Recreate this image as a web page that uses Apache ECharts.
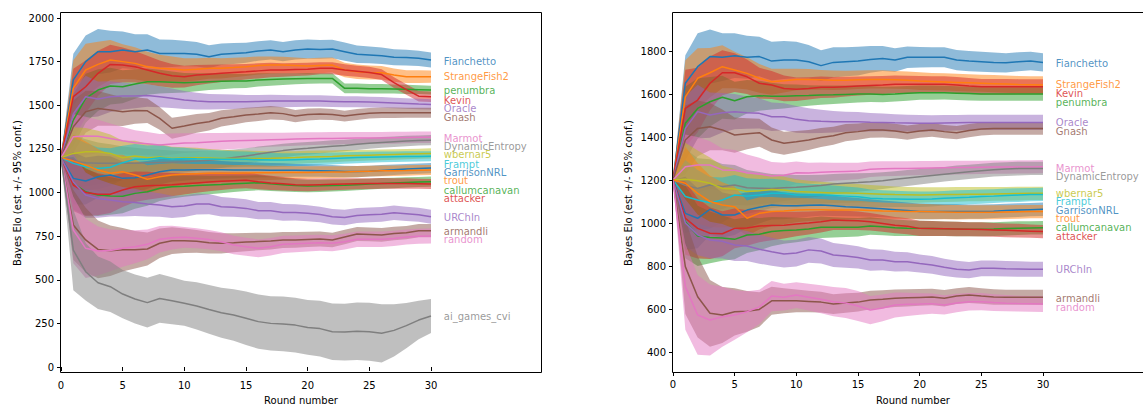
<!DOCTYPE html>
<html><head><meta charset="utf-8">
<script src="https://cdn.jsdelivr.net/npm/echarts@6/dist/echarts.min.js"></script>
<style>html,body{margin:0;padding:0;background:#fff}#c{width:1143px;height:404px}</style>
</head><body><div id="c"></div>
<script>
// ---------- data ----------
const rounds = [0,1,2,3,4,5,6,7,8,9,10,11,12,13,14,15,16,17,18,19,20,21,22,23,24,25,26,27,28,29,30];
const xTicks = [0,5,10,15,20,25,30];
const yTicksL = [0,250,500,750,1000,1250,1500,1750,2000];
const yTicksR = [400,600,800,1000,1200,1400,1600,1800];
const tab10 = ['#1f77b4','#ff7f0e','#2ca02c','#d62728','#9467bd','#8c564b','#e377c2','#7f7f7f','#bcbd22','#17becf'];

// plotting order (also colour order)
const namesL = ['Fianchetto','StrangeFish2','penumbra','Kevin','Oracle','Gnash','Marmot','DynamicEntropy','wbernar5','Frampt','GarrisonNRL','trout','callumcanavan','attacker','URChIn','armandli','random','ai_games_cvi'];
// label order (right panel)
const namesR = ['Fianchetto','StrangeFish2','Kevin','penumbra','Oracle','Gnash','Marmot','DynamicEntropy','wbernar5','Frampt','GarrisonNRL','trout','callumcanavan','attacker','URChIn','armandli','random'];
const labelYL = [1753,1662,1582,1530,1484,1427,1312,1266,1215,1163,1117,1066,1014,968,854,779,728,287];
const labelYR = [1743,1642,1603,1561,1467,1425,1254,1215,1138,1099,1057,1019,978,936,785,650,606];

// ---- left panel means ----
const L_Fianchetto = [1200,1645,1750,1807,1807,1817,1807,1817,1797,1797,1797,1792,1778,1792,1797,1801,1811,1817,1807,1817,1822,1820,1822,1807,1792,1788,1784,1775,1773,1769,1759];
const L_StrangeFish2 = [1200,1598,1702,1734,1759,1750,1740,1721,1712,1708,1702,1706,1712,1712,1716,1721,1728,1730,1730,1728,1725,1728,1730,1702,1692,1688,1686,1673,1664,1664,1664];
const L_penumbra = [1200,1415,1540,1587,1610,1606,1622,1635,1635,1632,1629,1632,1635,1637,1639,1639,1645,1648,1650,1652,1654,1654,1654,1597,1597,1595,1595,1593,1591,1589,1587];
const L_Kevin = [1200,1549,1606,1683,1734,1731,1721,1702,1683,1669,1664,1673,1678,1683,1688,1692,1697,1702,1702,1705,1707,1712,1712,1702,1695,1688,1676,1630,1590,1552,1549];
const L_Oracle = [1200,1450,1549,1536,1549,1553,1553,1556,1549,1540,1530,1524,1520,1520,1520,1520,1522,1524,1524,1524,1524,1524,1522,1520,1520,1518,1516,1513,1510,1507,1505];
const L_Gnash = [1200,1377,1463,1482,1473,1463,1470,1468,1425,1368,1381,1396,1406,1425,1434,1444,1450,1457,1452,1438,1447,1450,1447,1438,1447,1454,1457,1457,1457,1457,1457];
const L_Marmot = [1200,1320,1324,1322,1310,1297,1285,1280,1272,1278,1283,1285,1290,1293,1296,1298,1300,1302,1304,1306,1308,1309,1310,1311,1312,1313,1313,1314,1315,1316,1316];
const L_DynamicEntropy = [1200,1180,1170,1167,1168,1167,1168,1170,1172,1174,1176,1180,1185,1190,1200,1209,1220,1230,1240,1248,1253,1259,1265,1270,1276,1282,1287,1291,1295,1298,1300];
const L_wbernar5 = [1200,1224,1234,1234,1224,1199,1209,1199,1203,1195,1199,1199,1197,1195,1195,1195,1195,1196,1198,1200,1203,1205,1207,1210,1212,1214,1216,1218,1220,1222,1224];
const L_Frampt = [1200,1167,1148,1138,1145,1171,1190,1190,1199,1192,1195,1193,1192,1190,1190,1190,1188,1186,1186,1188,1190,1192,1195,1198,1200,1202,1204,1205,1206,1207,1208];
const L_GarrisonNRL = [1200,1081,1066,1090,1100,1081,1085,1100,1119,1129,1129,1131,1131,1130,1129,1129,1129,1128,1128,1127,1126,1125,1123,1121,1120,1122,1126,1130,1134,1137,1140];
const L_trout = [1200,1180,1157,1129,1110,1119,1100,1076,1090,1100,1104,1107,1110,1110,1111,1112,1113,1113,1114,1114,1115,1116,1117,1118,1120,1122,1124,1125,1126,1128,1129];
const L_callumcanavan = [1200,1053,1004,985,980,978,995,1004,1024,1033,1036,1040,1043,1046,1050,1053,1056,1050,1045,1040,1037,1038,1040,1042,1045,1048,1052,1055,1058,1060,1062];
const L_attacker = [1200,1043,1000,990,990,1014,1033,1039,1041,1045,1050,1055,1060,1065,1068,1070,1062,1055,1050,1045,1043,1045,1047,1049,1050,1051,1052,1052,1051,1050,1049];
const L_URChIn = [1200,1060,985,966,957,947,943,934,928,918,922,934,934,918,915,909,896,896,886,886,881,874,861,857,868,872,875,884,878,872,861];
const L_armandli = [1200,814,728,674,666,672,672,676,709,724,724,720,712,709,712,716,719,722,728,728,731,733,728,745,762,760,757,765,770,781,781];
const L_random = [1200,785,680,665,668,680,689,703,732,741,743,738,730,718,699,689,680,689,703,706,709,712,709,718,732,732,732,737,745,749,751];
const L_ai_games_cvi = [1200,670,546,483,460,418,390,369,393,380,365,350,330,311,298,279,260,250,247,240,227,220,202,200,205,202,193,210,237,269,292];

// ---- left panel half-widths of the 95% band ----
const ciL_Fianchetto = [0,150,150,130,120,105,100,90,80,78,73,70,66,62,60,57,56,55,55,55,55,54,53,52,50,48,47,46,45,44,43];
const ciL_StrangeFish2 = [0,160,150,130,115,100,92,85,78,72,68,64,60,58,56,54,52,50,48,46,45,44,43,42,41,40,39,38,37,36,35];
const ciL_penumbra = [0,150,140,120,105,95,85,75,68,62,56,52,48,45,42,40,38,36,34,32,31,30,29,28,28,27,27,26,26,25,25];
const ciL_Kevin = [0,160,150,130,112,100,90,82,74,68,62,58,54,50,47,45,43,41,39,37,36,35,34,33,32,32,31,31,30,30,30];
const ciL_Oracle = [0,140,120,100,88,78,70,64,60,56,52,48,45,43,41,39,37,36,35,34,33,33,32,32,31,31,31,30,30,30,30];
const ciL_Gnash = [0,150,120,100,90,82,76,70,65,60,57,54,50,47,44,42,40,38,36,35,34,33,32,31,31,30,30,30,29,29,29];
const ciL_Marmot = [0,130,110,95,85,78,72,67,63,60,57,54,51,48,46,44,42,40,39,38,37,36,36,35,35,34,34,34,33,33,33];
const ciL_mid = [0,150,135,120,108,97,88,80,73,67,61,57,53,50,47,45,43,41,39,37,36,35,34,33,32,31,31,30,30,29,29];
const ciL_URChIn = [0,160,130,110,95,85,78,72,67,64,62,60,58,56,54,52,50,49,48,47,46,45,44,44,43,42,42,41,41,40,40];
const ciL_armandli = [0,200,185,165,145,125,108,95,85,77,70,65,61,58,55,52,50,48,46,45,44,43,42,41,40,40,39,39,38,38,38];
const ciL_random = [0,190,170,140,120,105,95,85,76,68,60,57,55,54,53,52,51,50,49,48,47,46,46,45,45,44,44,44,43,43,43];
const ciL_ai_games_cvi = [0,230,165,150,145,138,140,143,140,135,129,135,140,143,148,153,155,156,157,157,157,160,162,163,165,166,167,150,130,110,97];

// ---- right panel means ----
const R_Fianchetto = [1200,1650,1727,1774,1771,1778,1771,1774,1753,1758,1758,1750,1732,1747,1750,1753,1761,1765,1758,1771,1771,1771,1771,1758,1753,1750,1747,1745,1750,1753,1747];
const R_StrangeFish2 = [1200,1587,1673,1699,1727,1712,1696,1673,1657,1662,1668,1668,1666,1664,1664,1666,1668,1668,1666,1664,1660,1658,1656,1654,1652,1650,1648,1646,1644,1643,1642];
const R_Kevin = [1200,1533,1572,1650,1699,1699,1680,1650,1642,1626,1622,1626,1631,1631,1634,1637,1640,1642,1645,1645,1645,1645,1645,1642,1637,1634,1634,1634,1634,1634,1634];
const R_penumbra = [1200,1464,1533,1564,1585,1569,1587,1592,1590,1589,1592,1593,1595,1596,1598,1600,1600,1598,1600,1603,1606,1606,1606,1604,1602,1600,1600,1600,1600,1600,1600];
const R_Oracle = [1200,1440,1518,1502,1513,1518,1513,1510,1494,1494,1482,1476,1473,1471,1471,1471,1469,1468,1466,1465,1464,1464,1465,1466,1467,1468,1468,1468,1468,1468,1468];
const R_Gnash = [1200,1386,1440,1448,1433,1409,1415,1420,1386,1371,1378,1386,1398,1406,1420,1425,1433,1433,1428,1420,1428,1433,1425,1420,1430,1437,1440,1440,1440,1440,1440];
const R_Marmot = [1200,1262,1270,1270,1247,1245,1234,1228,1219,1222,1234,1232,1236,1238,1240,1242,1250,1252,1253,1254,1255,1256,1257,1258,1258,1259,1260,1260,1261,1261,1262];
const R_DynamicEntropy = [1200,1175,1161,1177,1170,1177,1164,1162,1160,1164,1166,1170,1174,1181,1185,1188,1192,1197,1203,1209,1215,1221,1227,1233,1238,1243,1248,1251,1253,1254,1254];
const R_wbernar5 = [1200,1203,1197,1185,1161,1158,1146,1150,1156,1153,1146,1144,1142,1140,1139,1138,1136,1134,1132,1131,1130,1131,1132,1133,1134,1134,1135,1136,1137,1138,1138];
const R_Frampt = [1200,1123,1107,1094,1107,1130,1125,1130,1138,1138,1130,1130,1130,1128,1125,1122,1115,1113,1112,1111,1110,1112,1115,1118,1120,1123,1125,1128,1130,1132,1133];
const R_GarrisonNRL = [1200,1045,1022,1064,1037,1037,1060,1073,1084,1080,1080,1082,1084,1080,1076,1073,1070,1066,1062,1058,1053,1053,1053,1053,1053,1053,1055,1058,1060,1062,1064];
const R_trout = [1200,1185,1138,1100,1084,1076,1022,1045,1053,1056,1060,1062,1062,1060,1060,1060,1058,1056,1055,1054,1053,1052,1051,1050,1050,1050,1050,1051,1052,1053,1053];
const R_callumcanavan = [1200,1006,940,933,930,924,944,948,960,965,967,972,980,980,980,980,986,982,978,976,975,974,973,972,971,971,972,974,976,977,978];
const R_attacker = [1200,1022,975,952,950,975,977,986,988,990,995,1000,1006,1014,1012,1010,1006,998,990,985,975,974,973,972,971,970,968,966,964,962,960];
const R_URChIn = [1200,1000,945,921,915,898,893,878,866,856,860,875,870,851,846,840,828,828,820,820,812,805,794,785,781,789,789,787,786,785,785];
const R_armandli = [1200,797,657,580,572,587,589,598,638,638,638,635,632,623,628,632,642,645,650,652,654,656,650,660,665,660,656,655,655,655,655];
const R_random = [1200,704,572,549,564,572,587,610,660,655,665,655,645,634,628,614,595,605,619,622,623,625,619,628,634,634,630,627,625,624,623];

// ---- right panel half-widths ----
const ciR_Fianchetto = [0,130,155,126,111,104,100,92,90,88,85,78,72,70,68,67,62,58,55,50,48,47,47,47,47,47,46,45,44,43,42];
const ciR_StrangeFish2 = [0,170,140,115,100,85,75,67,60,55,50,48,46,45,44,43,42,42,41,41,41,40,40,40,40,40,40,40,40,40,40];
const ciR_Kevin = [0,180,150,125,105,90,80,72,65,60,55,52,50,48,46,44,43,42,41,40,39,38,38,37,37,36,36,36,35,35,35];
const ciR_penumbra = [0,170,140,115,100,88,78,70,62,56,52,48,45,43,41,39,37,36,35,34,33,33,32,32,32,31,31,31,31,31,31];
const ciR_Oracle = [0,150,125,105,92,82,75,70,66,63,62,58,54,50,47,45,43,41,40,39,38,37,37,36,36,36,35,35,35,35,35];
const ciR_Gnash = [0,160,130,110,95,82,72,65,58,54,50,47,44,42,40,38,36,35,34,33,32,32,31,31,31,30,30,30,30,30,30];
const ciR_Marmot = [0,150,130,110,100,95,85,75,65,58,52,48,45,42,40,38,36,35,34,33,33,32,32,32,31,31,31,31,31,31,31];
const ciR_mid = [0,170,140,120,105,93,83,75,68,62,57,53,50,47,45,43,41,39,38,37,36,35,34,34,33,33,32,32,32,31,31];
const ciR_URChIn = [0,110,95,85,80,75,70,67,65,63,62,60,58,56,54,52,50,48,46,44,42,41,40,39,38,37,37,36,36,35,35];
const ciR_armandli = [0,220,190,155,130,110,95,80,65,58,53,50,48,46,45,44,43,42,41,40,39,38,38,37,37,36,36,35,35,35,35];
const ciR_random = [0,200,185,165,140,115,95,80,70,62,60,62,65,68,70,70,66,62,58,54,50,47,45,43,41,40,39,38,37,37,37];

// ---------- assembly ----------
const meanL = {Fianchetto:L_Fianchetto, StrangeFish2:L_StrangeFish2, penumbra:L_penumbra, Kevin:L_Kevin, Oracle:L_Oracle, Gnash:L_Gnash, Marmot:L_Marmot, DynamicEntropy:L_DynamicEntropy, wbernar5:L_wbernar5, Frampt:L_Frampt, GarrisonNRL:L_GarrisonNRL, trout:L_trout, callumcanavan:L_callumcanavan, attacker:L_attacker, URChIn:L_URChIn, armandli:L_armandli, random:L_random, ai_games_cvi:L_ai_games_cvi};
const ciL = {Fianchetto:ciL_Fianchetto, StrangeFish2:ciL_StrangeFish2, penumbra:ciL_penumbra, Kevin:ciL_Kevin, Oracle:ciL_Oracle, Gnash:ciL_Gnash, Marmot:ciL_Marmot, DynamicEntropy:ciL_mid, wbernar5:ciL_mid, Frampt:ciL_mid, GarrisonNRL:ciL_mid, trout:ciL_mid, callumcanavan:ciL_mid, attacker:ciL_mid, URChIn:ciL_URChIn, armandli:ciL_armandli, random:ciL_random, ai_games_cvi:ciL_ai_games_cvi};
const meanR = {Fianchetto:R_Fianchetto, StrangeFish2:R_StrangeFish2, penumbra:R_penumbra, Kevin:R_Kevin, Oracle:R_Oracle, Gnash:R_Gnash, Marmot:R_Marmot, DynamicEntropy:R_DynamicEntropy, wbernar5:R_wbernar5, Frampt:R_Frampt, GarrisonNRL:R_GarrisonNRL, trout:R_trout, callumcanavan:R_callumcanavan, attacker:R_attacker, URChIn:R_URChIn, armandli:R_armandli, random:R_random};
const ciR = {Fianchetto:ciR_Fianchetto, StrangeFish2:ciR_StrangeFish2, penumbra:ciR_penumbra, Kevin:ciR_Kevin, Oracle:ciR_Oracle, Gnash:ciR_Gnash, Marmot:ciR_Marmot, DynamicEntropy:ciR_mid, wbernar5:ciR_mid, Frampt:ciR_mid, GarrisonNRL:ciR_mid, trout:ciR_mid, callumcanavan:ciR_mid, attacker:ciR_mid, URChIn:ciR_URChIn, armandli:ciR_armandli, random:ciR_random};

const colorOf = {};
namesL.forEach((n, i) => { colorOf[n] = tab10[i % 10]; });

const FONT = 'DejaVu Sans';
const series = [];

function addPanel(idx, meanOf, ciOf, labelNames, labelYs) {
  const plotNames = namesL.filter(n => meanOf[n]);
  // confidence bands (drawn under every line, as in the original)
  plotNames.forEach(n => {
    const m = meanOf[n], c = ciOf[n], col = colorOf[n];
    const band = rounds.map((x, k) => [x, m[k] - c[k], m[k] + c[k]]);
    series.push({type:'custom', xAxisIndex:idx, yAxisIndex:idx, silent:true, clip:false, z:1, animation:false,
      data: band, encode:{x:0, y:[1, 2]},
      renderItem: (params, api) => {
        if (params.dataIndex !== 0) return null;
        const upper = band.map(d => api.coord([d[0], d[2]]));
        const lower = band.map(d => api.coord([d[0], d[1]])).reverse();
        return {type:'polygon', shape:{points: upper.concat(lower)},
          style:{fill: col, opacity: 0.5, stroke: null}};
      }
    });
  });
  plotNames.forEach(n => {
    const m = meanOf[n];
    series.push({type:'line', xAxisIndex:idx, yAxisIndex:idx, symbol:'none', silent:true, clip:false, z:2,
      emphasis:{disabled:true}, animation:false,
      data: rounds.map((x, k) => [x, m[k]]),
      lineStyle:{color:colorOf[n], width:1.5}});
  });
  series.push({type:'scatter', xAxisIndex:idx, yAxisIndex:idx, symbolSize:1, silent:true, clip:false, z:3,
    animation:false, itemStyle:{color:'rgba(0,0,0,0)'},
    data: labelNames.map((n, i) => ({name:n, value:[31, labelYs[i]],
      label:{color:colorOf[n]}})),
    label:{show:true, position:'right', distance:0, formatter: p => p.name, fontSize:10, fontFamily:FONT}
  });
}
addPanel(0, meanL, ciL, namesL, labelYL);
addPanel(1, meanR, ciR, namesR, labelYR);

function xAxisCfg(gi, off) {
  return {gridIndex:gi, type:'value', min:xTicks[0], max:xTicks[xTicks.length-1], interval:xTicks[1]-xTicks[0], offset:off,
    axisLine:{show:false}, splitLine:{show:false},
    axisTick:{show:true, length:4, lineStyle:{color:'#000', width:1}},
    axisLabel:{color:'#000', fontSize:10, fontFamily:FONT, margin:7, formatter: v => String(v)}};
}
function yAxisCfg(gi, ticks) {
  return {gridIndex:gi, type:'value', min:ticks[0], max:ticks[ticks.length-1], interval:ticks[1]-ticks[0],
    axisLine:{show:false}, splitLine:{show:false},
    axisTick:{show:true, length:4, lineStyle:{color:'#000', width:1}},
    axisLabel:{color:'#000', fontSize:10, fontFamily:FONT, margin:7, formatter: v => String(v)}};
}

const option = {
  animation:false,
  backgroundColor:'#fff',
  grid:[
    {left:61, top:18, width:370, height:349},
    {left:673, top:51, width:370, height:301}
  ],
  xAxis:[xAxisCfg(0, 6), xAxisCfg(1, 20)],
  yAxis:[yAxisCfg(0, yTicksL), yAxisCfg(1, yTicksR)],
  series: series,
  graphic:[
    {type:'rect', z:100, silent:true, shape:{x:60.5, y:12.5, width:481, height:360}, style:{fill:'none', stroke:'#000', lineWidth:1}},
    {type:'rect', z:100, silent:true, shape:{x:672.5, y:12.5, width:481, height:360}, style:{fill:'none', stroke:'#000', lineWidth:1}},
    {type:'text', z:100, x:17, y:193, rotation:Math.PI/2, style:{text:'Bayes Elo (est +/- 95% conf.)', textAlign:'center', textVerticalAlign:'middle', fontSize:10, fontFamily:FONT, fill:'#000'}},
    {type:'text', z:100, x:628, y:193, rotation:Math.PI/2, style:{text:'Bayes Elo (est +/- 95% conf.)', textAlign:'center', textVerticalAlign:'middle', fontSize:10, fontFamily:FONT, fill:'#000'}},
    {type:'text', z:100, x:301, y:400, style:{text:'Round number', textAlign:'center', textVerticalAlign:'middle', fontSize:10, fontFamily:FONT, fill:'#000'}},
    {type:'text', z:100, x:913, y:400, style:{text:'Round number', textAlign:'center', textVerticalAlign:'middle', fontSize:10, fontFamily:FONT, fill:'#000'}}
  ]
};
const chart = echarts.init(document.getElementById('c'), null, {renderer:'svg'});
chart.setOption(option);
</script>
</body></html>
